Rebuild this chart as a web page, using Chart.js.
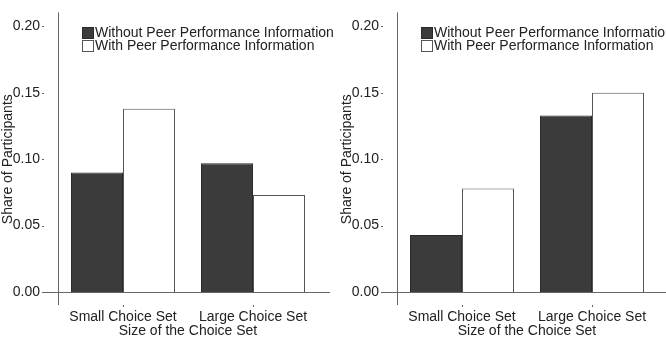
<!DOCTYPE html>
<html>
<head>
    <meta charset="utf-8" lang="en">
    <title>Share of Participants by Choice Set Size</title>
    <script src="https://cdn.jsdelivr.net/npm/chart.js@4.4.0/dist/chart.umd.min.js"></script>
    <style>
        body { margin: 0; background: #fff; }
        #wrap { position: relative; width: 666px; height: 342px; overflow: hidden; }
        canvas { position: absolute; top: 0; }
        #leftChart { left: 0; }
        #rightChart { left: 339px; }
    </style>
</head>
<body>
    <div id="wrap">
        <canvas id="leftChart" width="339" height="342"></canvas>
        <canvas id="rightChart" width="327" height="342"></canvas>
    </div>

    <script>
        const categories = ['Small Choice Set', 'Large Choice Set'];
        const seriesLabels = ['Without Peer Performance Information', 'With Peer Performance Information'];
        const leftWithout = [0.090, 0.097];
        const leftWith = [0.138, 0.073];
        const rightWithout = [0.043, 0.133];
        const rightWith = [0.078, 0.150];
        const yTicks = [0, 0.05, 0.10, 0.15, 0.20];

        const DARK = '#3b3b3b';
        const LINE = '#666';
        const TEXT = '#222';
        const FONT = "'Liberation Sans', Arial, sans-serif";

        Chart.defaults.font.family = FONT;
        Chart.defaults.font.size = 14;
        Chart.defaults.color = TEXT;

        // axis lines, little tick marks and the in-plot legend
        const frame = {
            id: 'frame',
            afterDatasetsDraw(chart) {
                const ctx = chart.ctx;
                const a = chart.chartArea;
                const x = chart.scales.x;
                const y = chart.scales.y;
                ctx.save();
                ctx.strokeStyle = LINE;
                ctx.lineWidth = 1;
                const y0 = Math.round(y.getPixelForValue(0)) + 0.5;
                const ax = Math.round(a.left) + 0.5;
                ctx.beginPath();
                ctx.moveTo(a.left - 15, y0);
                ctx.lineTo(a.right + 12, y0);
                ctx.moveTo(ax, a.top - 14);
                ctx.lineTo(ax, a.bottom + 13);
                ctx.stroke();

                ctx.fillStyle = LINE;
                yTicks.forEach(v => {
                    const py = Math.round(y.getPixelForValue(v));
                    ctx.fillRect(a.left - 16, py, 2, 1);
                });
                categories.forEach((c, i) => {
                    const px = Math.round(x.getPixelForValue(i));
                    ctx.fillRect(px, a.bottom + 13, 1, 2);
                });

                // legend
                const bx = a.left + 24;
                chart.data.datasets.forEach((ds, i) => {
                    const by = 27 + i * 13;
                    ctx.fillStyle = ds.backgroundColor;
                    ctx.fillRect(bx, by, 12, 12);
                    ctx.strokeStyle = ds.borderColor;
                    ctx.strokeRect(bx + 0.5, by + 0.5, 11, 11);
                    ctx.fillStyle = TEXT;
                    ctx.font = '14px ' + FONT;
                    ctx.textBaseline = 'middle';
                    ctx.textAlign = 'left';
                    ctx.fillText(ds.label, bx + 13, by + 6.5);
                });
                ctx.restore();
            }
        };

        function makeChart(id, withoutVals, withVals, padRight) {
            const ctx = document.getElementById(id).getContext('2d');
            return new Chart(ctx, {
                type: 'bar',
                data: {
                    labels: categories,
                    datasets: [{
                        label: seriesLabels[0],
                        data: withoutVals,
                        backgroundColor: DARK,
                        borderColor: '#2a2a2a',
                        borderWidth: 1
                    }, {
                        label: seriesLabels[1],
                        data: withVals,
                        backgroundColor: '#ffffff',
                        borderColor: '#555',
                        borderWidth: 1
                    }]
                },
                options: {
                    responsive: false,
                    animation: false,
                    categoryPercentage: 0.8,
                    barPercentage: 1,
                    layout: { padding: { top: 24, right: padRight, left: 0, bottom: 0 } },
                    plugins: {
                        legend: { display: false },
                        tooltip: { enabled: false }
                    },
                    scales: {
                        x: {
                            grid: { display: false, drawTicks: false },
                            border: { display: false },
                            ticks: { padding: 17, color: TEXT, maxRotation: 0 },
                            title: { display: true, text: 'Size of the Choice Set', color: TEXT, padding: { top: 0, bottom: 2 } },
                            afterFit(scale) { scale.height = 50; }
                        },
                        y: {
                            min: 0,
                            max: 0.2,
                            grid: { display: false, drawTicks: false },
                            border: { display: false },
                            afterBuildTicks(scale) { scale.ticks = yTicks.map(v => ({ value: v })); },
                            ticks: {
                                padding: 18,
                                color: TEXT,
                                callback: v => Number(v).toFixed(2)
                            },
                            title: { display: true, text: 'Share of Participants', color: TEXT, padding: 0 },
                            afterFit(scale) { scale.width = 58; }
                        }
                    }
                },
                plugins: [frame]
            });
        }

        makeChart('leftChart', leftWithout, leftWith, 21);
        makeChart('rightChart', rightWithout, rightWith, 9);
    </script>
</body>
</html>
